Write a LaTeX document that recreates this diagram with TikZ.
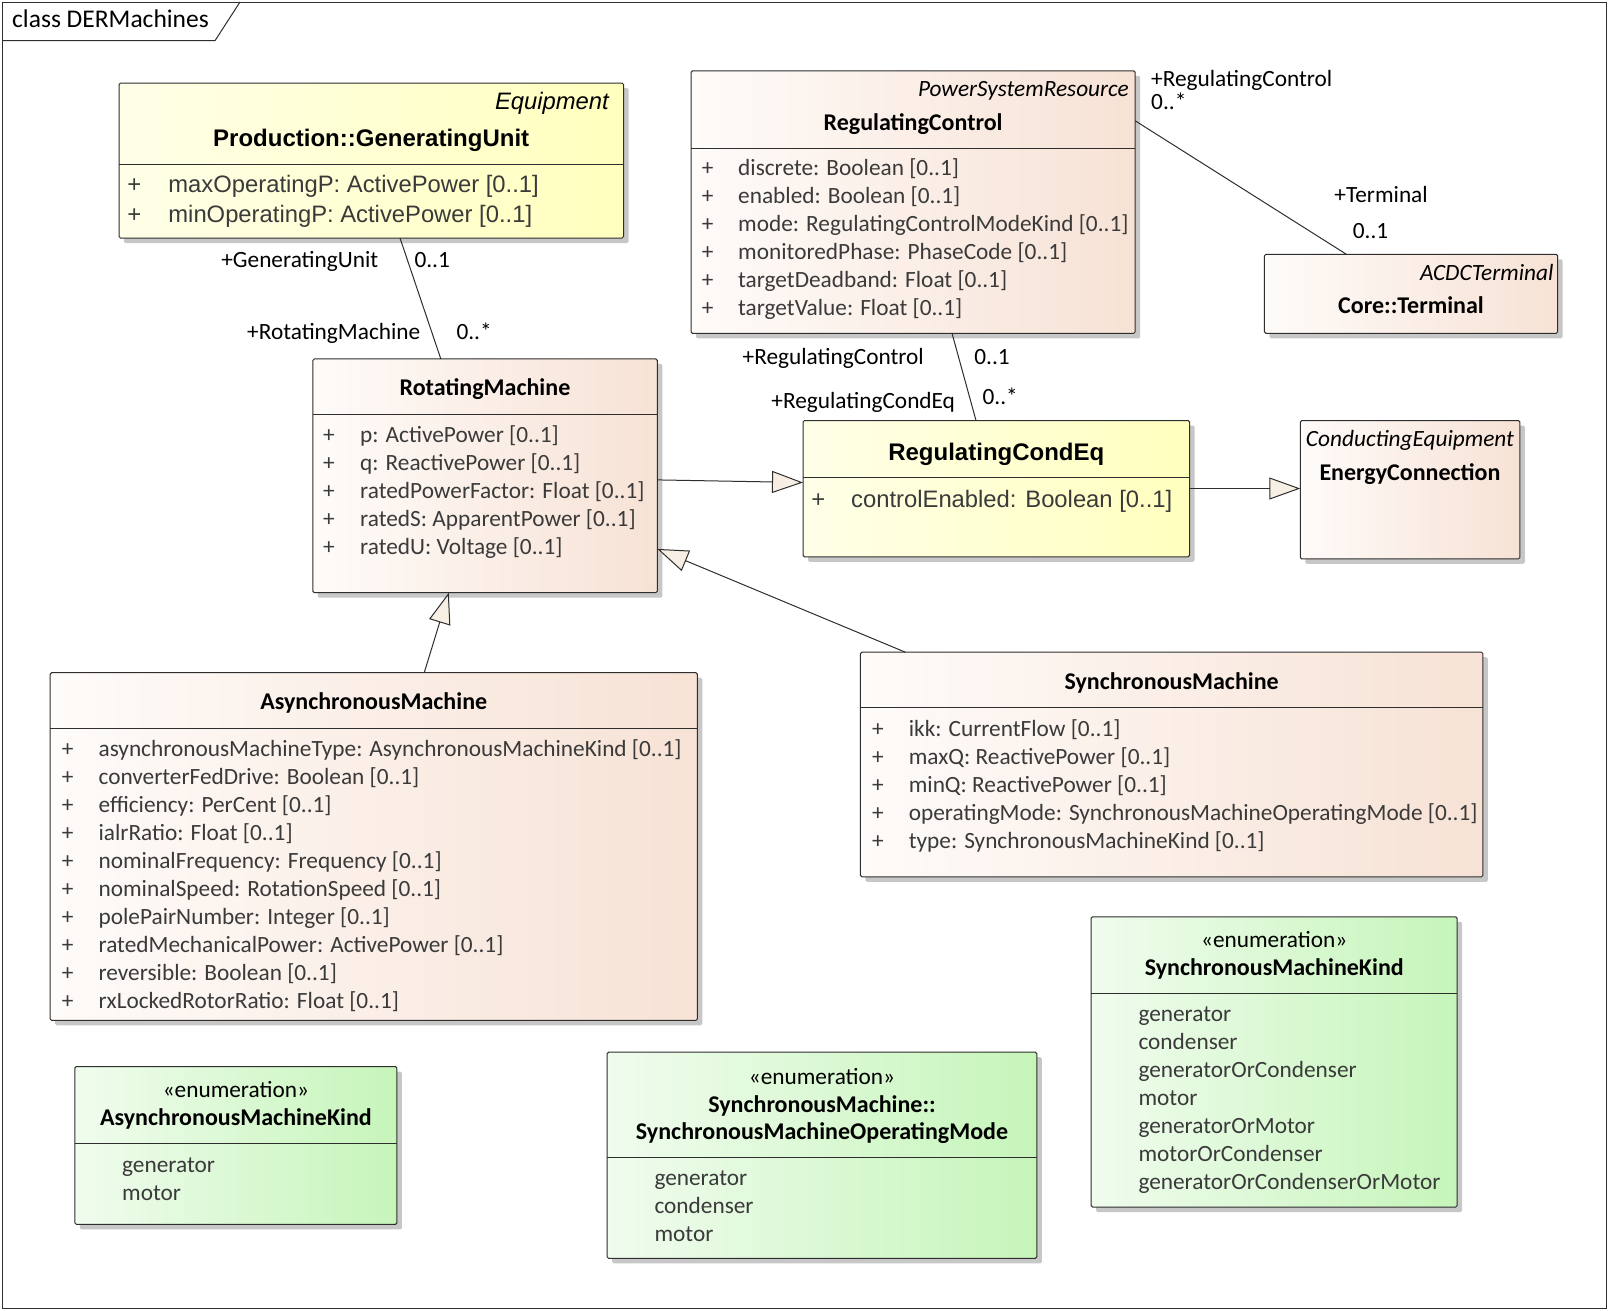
\documentclass[tikz,border=0pt]{standalone}
\usepackage{fontspec}
\setmainfont{Carlito}
\newfontfamily\arialf{Liberation Sans}
\usetikzlibrary{arrows.meta,shadows}
\definecolor{clsL}{HTML}{FEFBF9}
\definecolor{clsR}{HTML}{F7E2D5}
\definecolor{yelL}{HTML}{FFFFE8}
\definecolor{yelR}{HTML}{FFFFBE}
\definecolor{grnL}{HTML}{F0FCEE}
\definecolor{grnR}{HTML}{C6F5BA}
\definecolor{bord}{HTML}{2E2E2E}
\definecolor{attrc}{HTML}{3A3A3A}
\definecolor{tipf}{HTML}{F7EFE3}
\begin{document}
\begin{tikzpicture}[x=1pt,y=-1pt,
  box/.style={draw=bord, line width=1pt, rounded corners=1.5pt, anchor=north west, inner sep=0pt, outer sep=0pt,
    drop shadow={shadow xshift=5pt, shadow yshift=-5pt, opacity=0.22, fill=black}},
  cls/.style={box, left color=clsL, right color=clsR},
  yel/.style={box, left color=yelL, right color=yelR},
  grn/.style={box, left color=grnL, right color=grnR},
  sep/.style={draw=bord, line width=1pt},
  txt/.style={inner sep=0pt, yshift=-6pt, font=\fontsize{23.3}{27}\selectfont},
  attr/.style={txt, text=attrc, anchor=mid west},
  plus/.style={txt, text=attrc, anchor=mid},
  cname/.style={txt, font=\fontsize{24}{28}\selectfont\bfseries, anchor=mid},
  stereo/.style={txt, font=\fontsize{23.3}{27}\selectfont\itshape, anchor=mid east},
  aname/.style={txt, font=\fontsize{24}{28}\arialf\bfseries, anchor=mid},
  aattr/.style={txt, font=\fontsize{23.8}{28}\arialf, text=attrc, anchor=mid west},
  lbl/.style={txt},
  conn/.style={draw=bord, line width=1pt},
  gen/.style={conn, -{Triangle[length=31pt,width=22pt,fill=tipf]}}
]
\useasboundingbox (0,0) rectangle (1608,1310);
\fill[white] (0,0) rectangle (1608,1310);

% frame
\draw[bord, line width=1pt] (2,2) rectangle (1606,1308);
\draw[bord, line width=1pt] (2,40.7) -- (215,40.7) -- (240,2);
\node[inner sep=0pt, font=\fontsize{25.5}{30}\selectfont, anchor=base west] (ttl) at (12,27.5) {class DERMachines};

% ---------- boxes ----------
\node[yel, minimum width=504.5pt, minimum height=155pt] (gu) at (119,83) {};
\node[cls, minimum width=444.2pt, minimum height=262.5pt] (rc) at (691,70.8) {};
\node[cls, minimum width=293.3pt, minimum height=79pt] (term) at (1264.4,254.3) {};
\node[cls, minimum width=344.5pt, minimum height=233.8pt] (rm) at (312.8,358.9) {};
\node[yel, minimum width=386.6pt, minimum height=136.3pt] (rce) at (803,420.5) {};
\node[cls, minimum width=219.5pt, minimum height=138.4pt] (ec) at (1300.3,420.5) {};
\node[cls, minimum width=647.1pt, minimum height=347.7pt] (am) at (50.2,672.7) {};
\node[cls, minimum width=622.5pt, minimum height=224.6pt] (sm) at (860.4,652.2) {};
\node[grn, minimum width=322pt, minimum height=157.9pt] (amk) at (74.9,1066.5) {};
\node[grn, minimum width=429.7pt, minimum height=206.1pt] (smom) at (607.1,1052.2) {};
\node[grn, minimum width=366.1pt, minimum height=290.2pt] (smk) at (1091.1,916.8) {};

% separators
\draw[sep] (119,164.1) -- (623.5,164.1);
\draw[sep] (691,148.7) -- (1135.2,148.7);
\draw[sep] (312.8,414.3) -- (657.3,414.3);
\draw[sep] (803,477.9) -- (1189.6,477.9);
\draw[sep] (50.2,728.1) -- (697.3,728.1);
\draw[sep] (860.4,707.6) -- (1482.9,707.6);
\draw[sep] (74.9,1143.4) -- (396.9,1143.4);
\draw[sep] (607.1,1157.8) -- (1036.8,1157.8);
\draw[sep] (1091.1,993.7) -- (1457.2,993.7);

% ---------- GeneratingUnit ----------
\node[txt, font=\fontsize{23.8}{28}\arialf\itshape, anchor=mid east] (gu-st) at (609,101.5) {Equipment};
\node[aname] (gu-n) at (371.2,138.4) {Production::GeneratingUnit};
\foreach \t [count=\i from 0] in {maxOperatingP: ActivePower [0..1], minOperatingP: ActivePower [0..1]}{
  \node[txt, font=\fontsize{23.8}{28}\arialf, text=attrc, anchor=mid] (gu-p\i) at (134.3,{184.6+29.7*\i}) {+};
  \node[aattr] (gu-a\i) at (168.2,{184.6+29.7*\i}) {\t};
}

% ---------- RegulatingControl ----------
\node[stereo] (rc-st) at (1129,88) {PowerSystemResource};
\node[cname] (rc-n) at (913.1,122) {RegulatingControl};
\foreach \t [count=\i from 0] in {discrete: Boolean [0..1], enabled: Boolean [0..1], mode: RegulatingControlModeKind [0..1], monitoredPhase: PhaseCode [0..1], targetDeadband: Float [0..1], targetValue: Float [0..1]}{
  \node[plus] (rc-p\i) at (707.6,{167.2+28.05*\i}) {+};
  \node[attr] (rc-a\i) at (738,{167.2+28.05*\i}) {\t};
}

% ---------- Terminal ----------
\node[stereo] (term-st) at (1553.6,271.8) {ACDCTerminal};
\node[cname] (term-n) at (1411,305.6) {Core::Terminal};

% ---------- RotatingMachine ----------
\node[cname] (rm-n) at (485,387.6) {RotatingMachine};
\foreach \t [count=\i from 0] in {p: ActivePower [0..1], q: ReactivePower [0..1], ratedPowerFactor: Float [0..1], ratedS: ApparentPower [0..1], ratedU: Voltage [0..1]}{
  \node[plus] (rm-p\i) at (329,{433.8+28.05*\i}) {+};
  \node[attr] (rm-a\i) at (360,{433.8+28.05*\i}) {\t};
}

% ---------- RegulatingCondEq ----------
\node[aname] (rce-n) at (996.3,452) {RegulatingCondEq};
\node[txt, font=\fontsize{23.8}{28}\arialf, text=attrc, anchor=mid] (rce-p0) at (818.3,499.4) {+};
\node[aattr] (rce-a0) at (851,499.4) {controlEnabled: Boolean [0..1]};

% ---------- EnergyConnection ----------
\node[txt, font=\fontsize{23.3}{27}\selectfont\itshape, anchor=mid] (ec-st) at (1410,437.9) {ConductingEquipment};
\node[cname] (ec-n) at (1410,471.7) {EnergyConnection};

% ---------- AsynchronousMachine ----------
\node[cname] (am-n) at (373.7,701.4) {AsynchronousMachine};
\foreach \t [count=\i from 0] in {asynchronousMachineType: AsynchronousMachineKind [0..1], converterFedDrive: Boolean [0..1], efficiency: PerCent [0..1], ialrRatio: Float [0..1], nominalFrequency: Frequency [0..1], nominalSpeed: RotationSpeed [0..1], polePairNumber: Integer [0..1], ratedMechanicalPower: ActivePower [0..1], reversible: Boolean [0..1], rxLockedRotorRatio: Float [0..1]}{
  \node[plus] (am-p\i) at (67.7,{747.6+28.03*\i}) {+};
  \node[attr] (am-a\i) at (98.4,{747.6+28.03*\i}) {\t};
}

% ---------- SynchronousMachine ----------
\node[cname] (sm-n) at (1171.6,681) {SynchronousMachine};
\foreach \t [count=\i from 0] in {ikk: CurrentFlow [0..1], maxQ: ReactivePower [0..1], minQ: ReactivePower [0..1], operatingMode: SynchronousMachineOperatingMode [0..1], type: SynchronousMachineKind [0..1]}{
  \node[plus] (sm-p\i) at (877.8,{728+28.05*\i}) {+};
  \node[attr] (sm-a\i) at (908.6,{728+28.05*\i}) {\t};
}

% ---------- enumerations ----------
\node[txt, anchor=mid] (amk-s) at (235.9,1089) {«enumeration»};
\node[cname] (amk-n) at (235.9,1116.8) {AsynchronousMachineKind};
\foreach \t [count=\i from 0] in {generator, motor}{
  \node[attr] (amk-a\i) at (122,{1164+28.03*\i}) {\t};
}

\node[txt, anchor=mid] (smom-s) at (822,1076) {«enumeration»};
\node[cname] (smom-n1) at (822,1103.7) {SynchronousMachine::};
\node[cname] (smom-n2) at (822,1131.4) {SynchronousMachineOperatingMode};
\foreach \t [count=\i from 0] in {generator, condenser, motor}{
  \node[attr] (smom-a\i) at (654.3,{1177.3+28.03*\i}) {\t};
}

\node[txt, anchor=mid] (smk-s) at (1274.2,939.3) {«enumeration»};
\node[cname] (smk-n) at (1274.2,967) {SynchronousMachineKind};
\foreach \t [count=\i from 0] in {generator, condenser, generatorOrCondenser, motor, generatorOrMotor, motorOrCondenser, generatorOrCondenserOrMotor}{
  \node[attr] (smk-a\i) at (1138.3,{1013.2+28.03*\i}) {\t};
}

% ---------- connectors ----------
\draw[conn] ([xshift=281pt]gu.south west) -- ([xshift=128pt]rm.north west);
\draw[conn] ([yshift=-50pt]rc.north east) -- ([xshift=82pt]term.north west);
\draw[conn] ([xshift=261pt]rc.south west) -- ([xshift=173pt]rce.north west);
\draw[gen] ([yshift=-121pt]rm.north east) -- ([yshift=-62pt]rce.north west);
\draw[gen] ([yshift=-68pt]rce.north east) -- ([yshift=-68pt]ec.north west);
\draw[gen] ([xshift=45pt]sm.north west) -- ([yshift=-190pt]rm.north east);
\draw[gen] ([xshift=374pt]am.north west) -- ([xshift=136pt]rm.south west);

% ---------- association labels ----------
\node[lbl, anchor=mid east] (l1) at (378.4,259.5) {+GeneratingUnit};
\node[lbl, anchor=mid west] (l2) at (414.3,259.5) {0..1};
\node[lbl, anchor=mid east] (l3) at (420.5,331.2) {+RotatingMachine};
\node[lbl, anchor=mid west] (l4) at (456.3,331.2) {0..*};
\node[lbl, anchor=mid west] (l5) at (1151,77.9) {+RegulatingControl};
\node[lbl, anchor=mid west] (l6) at (1151,101.5) {0..*};
\node[lbl, anchor=mid west] (l7) at (1334.2,193.8) {+Terminal};
\node[lbl, anchor=mid west] (l8) at (1352.6,229.7) {0..1};
\node[lbl, anchor=mid west] (l9) at (742.5,355.9) {+RegulatingControl};
\node[lbl, anchor=mid west] (l10) at (974.2,355.9) {0..1};
\node[lbl, anchor=mid west] (l11) at (771.2,400) {+RegulatingCondEq};
\node[lbl, anchor=mid west] (l12) at (982.4,395.8) {0..*};
\end{tikzpicture}
\end{document}
